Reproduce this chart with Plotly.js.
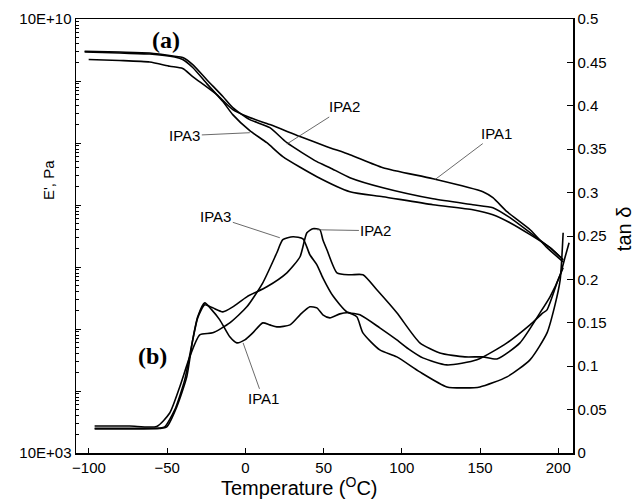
<!DOCTYPE html>
<html>
<head>
<meta charset="utf-8">
<script src="https://cdn.plot.ly/plotly-3.0.1.min.js"></script>
<style>html,body{margin:0;padding:0;background:#fff;}#chart{width:637px;height:499px;}</style>
</head>
<body>
<div id="chart"></div>
<script>
// Storage modulus E' (Pa) vs temperature (°C)
const tempE_IPA1 = [-100.2, -80.4, -61.2, -48.4, -40.1, -33.7, -18.3, -8.1, 2.8, 15.6, 34.9, 52.1, 66.8, 87.9, 119.9, 151.8, 158.2, 167.2, 182.0, 192.8, 203.1];
const modE_IPA1 = [2.22e9, 2.14e9, 2.02e9, 1.73e9, 1.59e9, 1.18e9, 6.04e8, 3.46e8, 2.57e8, 1.98e8, 1.27e8, 8.73e7, 6.49e7, 4.00e7, 2.65e7, 1.64e7, 1.31e7, 7.80e6, 3.99e6, 2.05e6, 1.21e6];

const tempE_IPA2 = [-102.8, -80.4, -61.2, -45.2, -40.1, -33.7, -24.7, -14.4, -8.1, 2.8, 15.6, 26.5, 45.7, 54.0, 66.8, 87.9, 119.9, 145.4, 158.2, 169.1, 182.0, 194.7, 203.1];
const modE_IPA2 = [3.02e9, 2.93e9, 2.83e9, 2.51e9, 2.39e9, 1.84e9, 1.05e9, 5.61e8, 3.72e8, 2.38e8, 1.77e8, 1.01e8, 5.00e7, 4.00e7, 2.76e7, 1.90e7, 1.26e7, 1.01e7, 9.04e6, 6.24e6, 3.57e6, 2.05e6, 1.31e6];

const tempE_IPA3 = [-102.8, -80.4, -61.2, -45.2, -40.1, -33.7, -24.7, -14.4, -8.1, 2.8, 13.7, 23.9, 45.7, 66.8, 87.9, 119.9, 145.4, 158.2, 169.1, 182.0, 194.7, 203.1];
const modE_IPA3 = [2.93e9, 2.83e9, 2.72e9, 2.43e9, 2.22e9, 1.65e9, 9.08e8, 4.66e8, 2.87e8, 1.58e8, 1.01e8, 6.03e7, 2.86e7, 1.64e7, 1.36e7, 1.01e7, 8.39e6, 6.97e6, 5.18e6, 3.32e6, 2.05e6, 1.31e6];

// Loss tangent tan δ vs temperature (°C)
const tempT_IPA1 = [-96.4, -74.0, -54.8, -50.3, -43.9, -37.5, -33.7, -30.5, -26.0, -21.5, -16.4, -10.0, -5.5, -0.4, 4.7, 11.1, 15.6, 20.1, 28.5, 34.9, 41.2, 45.7, 49.5, 54.0, 60.4, 65.5, 71.2, 75.1, 85.9, 96.8, 111.5, 128.8, 140.3, 149.9, 167.2, 181.9, 192.8, 197.9, 201.2, 203.1];
const tanD_IPA1 = [0.0277, 0.0277, 0.0283, 0.0300, 0.0531, 0.0877, 0.1303, 0.1569, 0.1730, 0.1649, 0.1534, 0.1338, 0.1269, 0.1303, 0.1384, 0.1499, 0.1476, 0.1453, 0.1476, 0.1592, 0.1684, 0.1672, 0.1592, 0.1557, 0.1603, 0.1615, 0.1569, 0.1384, 0.1188, 0.1107, 0.0934, 0.0761, 0.0750, 0.0761, 0.0877, 0.1073, 0.1384, 0.1707, 0.1995, 0.2537];

const tempT_IPA2 = [-96.4, -74.0, -54.8, -51.6, -45.2, -38.8, -34.3, -30.5, -26.0, -20.9, -14.4, -8.1, 0.9, 13.7, 26.5, 34.9, 39.3, 43.1, 47.6, 49.5, 52.1, 58.5, 66.8, 75.1, 84.0, 96.8, 111.5, 124.3, 140.3, 151.8, 160.8, 175.5, 188.3, 194.7, 201.2, 204.4, 206.9];
const tanD_IPA2 = [0.0285, 0.0285, 0.0288, 0.0300, 0.0496, 0.0842, 0.1246, 0.1557, 0.1707, 0.1672, 0.1626, 0.1684, 0.1799, 0.1915, 0.2076, 0.2261, 0.2537, 0.2584, 0.2572, 0.2457, 0.2341, 0.2076, 0.2053, 0.2053, 0.1880, 0.1615, 0.1269, 0.1153, 0.1107, 0.1107, 0.1084, 0.1269, 0.1615, 0.1799, 0.2053, 0.2261, 0.2422];

const tempT_IPA3 = [-96.4, -74.0, -56.7, -48.4, -42.0, -35.6, -29.2, -20.9, -10.0, 0.9, 11.1, 20.1, 23.9, 30.4, 36.8, 41.2, 45.7, 49.5, 55.9, 64.9, 73.2, 85.9, 96.8, 105.1, 113.4, 128.8, 148.0, 167.2, 181.9, 190.2, 192.8, 199.2, 203.1];
const tanD_IPA3 = [0.0311, 0.0311, 0.0306, 0.0461, 0.0761, 0.1107, 0.1361, 0.1384, 0.1499, 0.1684, 0.1961, 0.2307, 0.2457, 0.2491, 0.2468, 0.2284, 0.2168, 0.2018, 0.1811, 0.1626, 0.1592, 0.1442, 0.1303, 0.1188, 0.1096, 0.1015, 0.1073, 0.1269, 0.1476, 0.1615, 0.1649, 0.1961, 0.2134];

const xTicks = [-100, -50, 0, 50, 100, 150, 200];
const yLeftTickVals = [1e3, 1e4, 1e5, 1e6, 1e7, 1e8, 1e9, 1e10];
const yLeftTickText = ['10E+03', '', '', '', '', '', '', '10E+10'];

const minorVals = [];
for (let k = 3; k < 10; k++) for (let m = 2; m <= 9; m++) minorVals.push(m * Math.pow(10, k));

const lineStyle = {color: '#000', width: 1.6, shape: 'spline', smoothing: 0.6};
function tr(x, y, axis) {
  return {x: x, y: y, yaxis: axis, type: 'scatter', mode: 'lines', line: lineStyle, hoverinfo: 'skip', showlegend: false};
}
const data = [
  tr(tempE_IPA1, modE_IPA1, 'y'),
  tr(tempE_IPA2, modE_IPA2, 'y'),
  tr(tempE_IPA3, modE_IPA3, 'y'),
  tr(tempT_IPA1, tanD_IPA1, 'y2'),
  tr(tempT_IPA2, tanD_IPA2, 'y2'),
  tr(tempT_IPA3, tanD_IPA3, 'y2')
];

const baseFont = {family: 'Liberation Sans, Arial, sans-serif', size: 15, color: '#000'};
const lead = {showarrow: true, arrowhead: 0, arrowwidth: 0.8, arrowcolor: '#444', xref: 'x', yref: 'y2', font: baseFont};
const free = {showarrow: false, xanchor: 'center', yanchor: 'middle'};

const annotations = [
  Object.assign({}, lead, {text: 'IPA3', x: 2.8, y: 0.369, ax: -65, ay: 3}),
  Object.assign({}, lead, {text: 'IPA2', x: 26.5, y: 0.356, ax: 58, ay: -37}),
  Object.assign({}, lead, {text: 'IPA1', x: 121.2, y: 0.315, ax: 61, ay: -46}),
  Object.assign({}, lead, {text: 'IPA3', x: 22.0, y: 0.248, ax: -64, ay: -21}),
  Object.assign({}, lead, {text: 'IPA2', x: 45.7, y: 0.2572, ax: 59, ay: 1}),
  Object.assign({}, lead, {text: 'IPA1', x: -1.5, y: 0.1269, ax: 20, ay: 56}),
  Object.assign({}, free, {text: '<b>(a)</b>', x: -50.9, y: 0.476, xref: 'x', yref: 'y2',
   font: {family: 'Liberation Serif, Times New Roman, serif', size: 24, color: '#000'}}),
  Object.assign({}, free, {text: '<b>(b)</b>', x: -59.3, y: 0.112, xref: 'x', yref: 'y2',
   font: {family: 'Liberation Serif, Times New Roman, serif', size: 24, color: '#000'}}),
  Object.assign({}, free, {text: "E', Pa", xref: 'paper', yref: 'paper', x: -0.0563, y: 0.629, textangle: -90,
   font: {family: 'Liberation Sans, Arial, sans-serif', size: 15, color: '#000'}}),
  Object.assign({}, free, {text: 'tan δ', xref: 'paper', yref: 'paper', x: 1.1026, y: 0.518, textangle: -90,
   font: {family: 'Liberation Sans, Arial, sans-serif', size: 20, color: '#000'}}),
  Object.assign({}, free, {text: 'Temperature (<sup>O</sup>C)', xref: 'paper', yref: 'paper', x: 0.4507, y: -0.078,
   font: {family: 'Liberation Sans, Arial, sans-serif', size: 20, color: '#000'}})
];

const layout = {
  width: 637, height: 499,
  margin: {l: 76, r: 64, t: 19, b: 46, pad: 0},
  paper_bgcolor: '#fff', plot_bgcolor: '#fff',
  showlegend: false,
  font: baseFont,
  xaxis: {
    range: [-108.3, 209.4], tickmode: 'array', tickvals: xTicks,
    ticks: 'inside', ticklen: 5, tickwidth: 1, tickcolor: '#000',
    showline: true, linecolor: '#000', linewidth: 1.5, mirror: true,
    showgrid: false, zeroline: false, tickfont: baseFont
  },
  yaxis: {
    type: 'log', range: [3, 10], tickmode: 'array', tickvals: yLeftTickVals, ticktext: yLeftTickText,
    ticks: 'inside', ticklen: 5, tickwidth: 1, tickcolor: '#000',
    minor: {tickmode: 'array', tickvals: minorVals, ticks: 'inside', ticklen: 3, tickwidth: 1, tickcolor: '#000', showgrid: false},
    showline: true, linecolor: '#000', linewidth: 1.5,
    showgrid: false, zeroline: false, tickfont: baseFont
  },
  yaxis2: {
    overlaying: 'y', side: 'right', range: [0, 0.5], dtick: 0.05, tick0: 0,
    ticks: 'inside', ticklen: 6, tickwidth: 1, tickcolor: '#000',
    showline: true, linecolor: '#000', linewidth: 1.5,
    showgrid: false, zeroline: false, tickfont: baseFont
  },
  annotations: annotations
};

Plotly.newPlot('chart', data, layout, {staticPlot: true, displayModeBar: false});
</script>
</body>
</html>
